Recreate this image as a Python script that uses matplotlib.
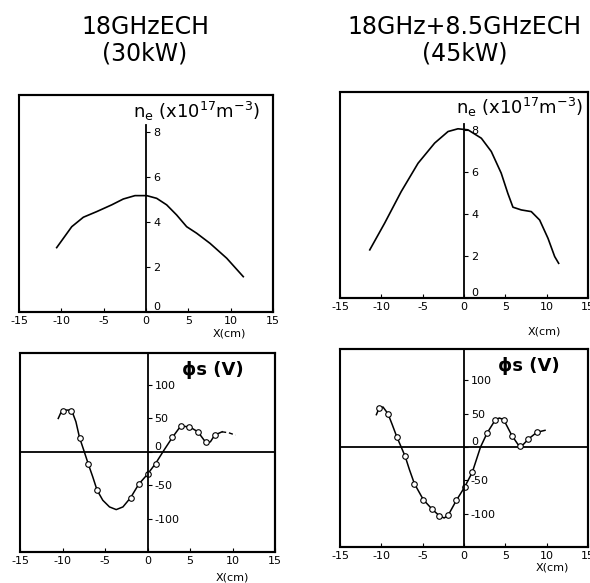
import matplotlib.pyplot as plt
from matplotlib.patches import Rectangle

plt.rcParams['axes.unicode_minus'] = False
plt.rcParams['font.family'] = 'DejaVu Sans'

# tick values
x_ticks = [-15, -10, -5, 0, 5, 10, 15]
ne_ticks = [0, 2, 4, 6, 8]
phi_ticks = [-100, -50, 0, 50, 100]

# titles
title_left = "18GHzECH\n(30kW)"
title_right = "18GHz+8.5GHzECH\n(45kW)"

# electron density profile, 18GHz ECH (x10^17 m^-3)
ne_x_a = [-10.55, -8.77, -7.4, -5.82, -4.05, -2.68, -1.3, 0.08, 1.26, 2.44, 3.62, 4.8, 5.98, 7.56, 9.53, 11.49]
ne_a = [2.86, 3.79, 4.21, 4.46, 4.76, 5.02, 5.17, 5.17, 5.05, 4.76, 4.31, 3.79, 3.5, 3.05, 2.39, 1.57]

# electron density profile, 18GHz + 8.5GHz ECH
ne_x_b = [-11.4, -9.6, -7.6, -5.56, -3.55, -1.93, -0.73, 0.48, 2.1, 3.3, 4.5, 5.3, 5.92, 6.93,
          8.14, 9.15, 10.16, 10.97, 11.45]
ne_b = [2.29, 3.56, 5.06, 6.41, 7.37, 7.92, 8.05, 8.0, 7.6, 6.97, 5.94, 4.98, 4.32, 4.19,
        4.11, 3.71, 2.84, 1.97, 1.65]

# space potential, 18GHz ECH: fitted curve (solid part + dashed tail) and measured points
phi_cx_a = [-10.5, -10.2, -9.6, -8.93, -8.42, -8.0, -7.5, -6.96, -6.44, -5.93, -5.26, -4.47, -3.68,
            -2.89, -1.98, -1.03, 0.0, 0.95, 1.94, 2.92, 3.9, 4.94, 5.93, 6.92, 7.4, 7.9, 8.77]
phi_c_a = [50, 58.5, 62.5, 62.5, 45, 21.5, 2.5, -18.5, -37.5, -57.5, -72.5, -82.5, -86.5,
           -82.5, -68.5, -48.5, -33.5, -17.5, 2.5, 21.5, 38.5, 37.5, 30, 13, 15, 25, 30]
phi_tx_a = [8.77, 9.57, 10.36]
phi_t_a = [30, 28.5, 25]
phi_px_a = [-10.0, -9.0, -8.0, -6.96, -5.93, -1.98, -1.03, 0.0, 0.95, 2.92, 3.9, 4.94, 5.93, 6.92, 7.9]
phi_p_a = [61, 61.5, 21, -18.5, -57.5, -68.5, -48.5, -33.5, -17.5, 21.5, 38.5, 37.5, 30, 14, 25]

# space potential, 18GHz + 8.5GHz ECH
phi_cx_b = [-10.6, -10.28, -9.8, -9.2, -8.68, -8.12, -7.6, -7.12, -6.6, -6.0, -4.92, -3.88, -3.0,
            -2.4, -1.92, -0.92, 0.08, 1.0, 2.0, 2.8, 3.8, 4.28, 4.8, 5.8, 6.8, 7.8, 8.8, 9.8]
phi_c_b = [48.5, 58, 60, 50, 33.5, 15, 0, -14, -34, -55, -79, -93, -103,
           -106.5, -102.5, -80, -60, -38, 0, 21, 41, 43.5, 41, 17, -1, 12, 22, 25]
phi_px_b = [-10.3, -9.2, -8.1, -7.1, -6.0, -4.9, -3.9, -3.0, -1.9, -0.92, 0.08, 1.0,
            2.8, 3.8, 4.8, 5.8, 6.8, 7.8, 8.8]
phi_p_b = [58, 50, 15, -14, -55, -79, -93, -103, -102.5, -80, -60, -38,
           21, 41, 41, 17, 1, 12, 22]

W, H = 590, 583
fig = plt.figure(figsize=(W / 100, H / 100), dpi=100)


def box(l, t, r, b):
    return [l / W, 1 - b / H, (r - l) / W, (b - t) / H]


def setup(ax, ylim, yticks, vtop=None):
    ax.set_xlim(-15, 15)
    ax.set_ylim(*ylim)
    ax.spines['left'].set_position(('data', 0))
    ax.spines['left'].set_linewidth(1.3)
    if vtop is not None:
        ax.spines['left'].set_bounds(ylim[0], vtop)
    for s in ['top', 'right', 'bottom']:
        ax.spines[s].set_linewidth(1.5)
    ax.add_patch(Rectangle((0, 0), 1, 1, transform=ax.transAxes, fill=False, lw=1.5, clip_on=False))
    ax.set_xticks(x_ticks)
    ax.set_yticks(yticks)
    ax.tick_params(axis='x', direction='in', length=3, labelsize=8, pad=3)
    ax.tick_params(axis='y', direction='in', length=3, labelsize=8, pad=-5)
    for lab in ax.get_yticklabels():
        lab.set_horizontalalignment('left')
    ax.get_yticklabels()[list(yticks).index(0)].set_verticalalignment('bottom')


ne_label = 'n$_\\mathrm{e}$ (x10$^{17}$m$^{-3}$)'

# top left
ax1 = fig.add_axes(box(19, 95, 273, 312))
setup(ax1, (0, 9.64), ne_ticks, vtop=8.3)
ax1.plot(ne_x_a, ne_a, color='black', lw=1.2)
ax1.text(0.95, 0.926, ne_label, transform=ax1.transAxes, ha='right', va='center', fontsize=13)

# top right
ax2 = fig.add_axes(box(340, 92, 588, 298))
setup(ax2, (0, 9.8), ne_ticks, vtop=8.3)
ax2.plot(ne_x_b, ne_b, color='black', lw=1.2)
ax2.text(0.98, 0.925, ne_label, transform=ax2.transAxes, ha='right', va='center', fontsize=13)

# bottom left
ax3 = fig.add_axes(box(20, 353, 275, 552))
setup(ax3, (-150, 148), phi_ticks)
ax3.axhline(0, color='black', lw=1.3)
ax3.plot(phi_cx_a, phi_c_a, color='black', lw=1.1)
ax3.plot(phi_tx_a, phi_t_a, color='black', lw=1.0, ls=(0, (3, 2)))
ax3.plot(phi_px_a, phi_p_a, 'o', ms=4, mfc='white', mec='black', mew=0.8)
ax3.text(0.757, 0.915, 'ϕs (V)', transform=ax3.transAxes, ha='center', va='center',
         fontsize=13, fontweight='bold')

# bottom right
ax4 = fig.add_axes(box(340, 349, 588, 547))
setup(ax4, (-150, 147), phi_ticks)
ax4.axhline(0, color='black', lw=1.3)
ax4.plot(phi_cx_b, phi_c_b, color='black', lw=1.1)
ax4.plot(phi_px_b, phi_p_b, 'o', ms=4, mfc='white', mec='black', mew=0.8)
ax4.text(0.762, 0.914, 'ϕs (V)', transform=ax4.transAxes, ha='center', va='center',
         fontsize=13, fontweight='bold')

# x axis labels
for px, py in [(229, 334), (544, 331), (232, 577), (552, 567)]:
    fig.text(px / W, 1 - py / H, 'X(cm)', ha='center', va='center', fontsize=8)

# column titles
fig.text(145 / W, 1 - 40 / H, title_left, ha='center', va='center', fontsize=17, linespacing=1.15)
fig.text(465 / W, 1 - 40 / H, title_right, ha='center', va='center', fontsize=17, linespacing=1.15)

fig.savefig('out.png', dpi=100)
